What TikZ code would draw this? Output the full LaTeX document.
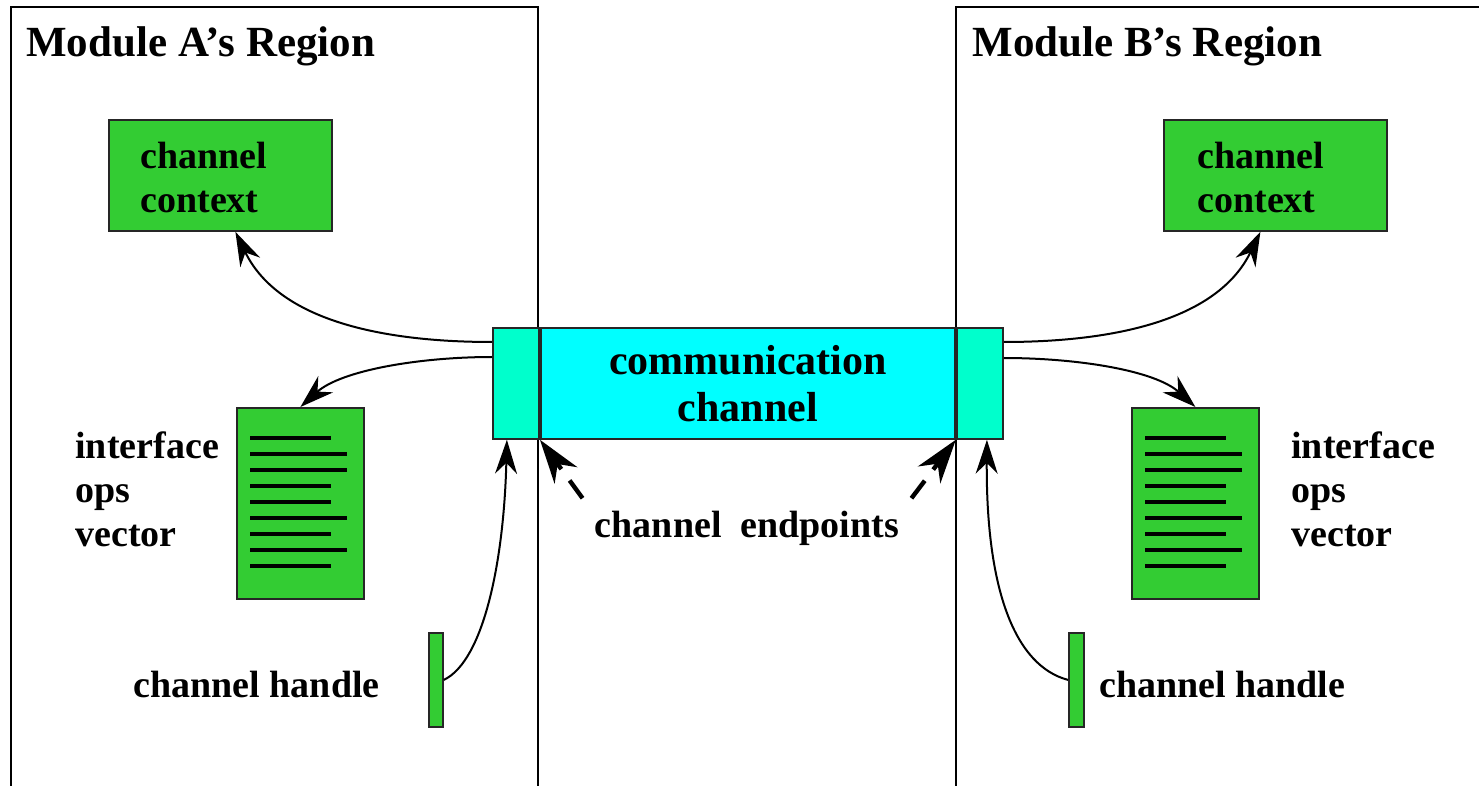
\documentclass[tikz,border=0pt]{standalone}
\usepackage{fontspec}
\setmainfont{Liberation Serif}
\usetikzlibrary{arrows.meta,calc,positioning}
\newcommand{\pxunit}{0.5pt}
\definecolor{chgreen}{RGB}{51,204,51}
\definecolor{chcyan}{RGB}{0,255,255}
\definecolor{epcyan}{RGB}{0,255,204}
\tikzset{
    regionsty/.style={draw=black, line width=1pt},
    titlesty/.style={font=\fontsize{21.5}{25}\selectfont\bfseries, inner sep=0pt, anchor=base west},
    lblsty/.style={font=\fontsize{19}{22}\selectfont\bfseries, inner sep=0pt, align=left},
    boxsty/.style={draw=black!85, line width=0.9pt, rectangle, anchor=north west, inner sep=0pt},
    ctxsty/.style={boxsty, fill=chgreen, minimum width=223*\pxunit, minimum height=111*\pxunit},
    ifsty/.style={boxsty, fill=chgreen, minimum width=127*\pxunit, minimum height=191*\pxunit},
    hdlsty/.style={boxsty, fill=chgreen, minimum width=14*\pxunit, minimum height=94*\pxunit},
    epsty/.style={boxsty, fill=epcyan, minimum width=46*\pxunit, minimum height=111*\pxunit},
    chansty/.style={boxsty, fill=chcyan, minimum width=414*\pxunit, minimum height=111*\pxunit,
        align=center, font=\fontsize{21}{23.5}\selectfont\bfseries},
    oplinesty/.style={line width=2pt},
    arrsty/.style={line width=1pt, -{Stealth[length=17pt,width=11pt,inset=5.5pt]}},
    dasharrsty/.style={line width=2.2pt, dash pattern=on 11pt off 7pt,
        -{Stealth[length=22pt,width=14pt,inset=7pt]}},
}

\begin{document}
\begin{tikzpicture}[x=\pxunit, y=-\pxunit]
\clip (0,0) rectangle (1479,786);

% the two regions
\draw[regionsty] (11,800) |- (538,7) -- (538,800);
\draw[regionsty] (956,800) |- (1490,7);
\node[titlesty] (titleA) at (26,57) {Module A’s Region};
\node[titlesty] (titleB) at (972,57) {Module B’s Region};

% boxes
\node[ctxsty] (ctxA) at (108,119) {};
\node[ctxsty] (ctxB) at (1163,119) {};
\node[lblsty, anchor=base west] (ctxAlbl) at (140,213) {channel\\context};
\node[lblsty, anchor=base west] (ctxBlbl) at (1197,213) {channel\\context};

\node[ifsty] (ifA) at (236,407) {};
\node[ifsty] (ifB) at (1131,407) {};
\foreach \bx in {236,1131}
  \foreach \i/\w in {0/81,1/97,2/97,3/81,4/81,5/97,6/81,7/97,8/81}
    \draw[oplinesty] (\bx+14,438+16*\i) -- ++(\w,0);
\node[lblsty, anchor=base west] (ifAlbl) at (75,546) {interface\\ops\\vector};
\node[lblsty, anchor=base west] (ifBlbl) at (1291,546) {interface\\ops\\vector};

\node[hdlsty] (hdA) at (428,632) {};
\node[hdlsty, minimum width=15*\pxunit] (hdB) at (1068,632) {};
\node[lblsty, anchor=base east] (hdAlbl) at (380,697) {channel handle};
\node[lblsty, anchor=base west] (hdBlbl) at (1099,697) {channel handle};

% the channel
\node[epsty] (epA) at (492,327) {};
\node[chansty] (chan) at (540,327) {communication\\channel};
\node[epsty] (epB) at (956,327) {};
\node[lblsty, inner sep=6pt, anchor=base] (eplbl) at (747,537) {channel\ \ endpoints};

% connectors
\draw[arrsty] ([yshift=-15*\pxunit]epA.north west) .. controls +(-92,0) and +(46,95) .. ([xshift=15*\pxunit]ctxA.south);
\draw[arrsty] ([yshift=-30*\pxunit]epA.north west) .. controls +(-71,0) and +(41,-37) .. (ifA.north);
\draw[arrsty] (hdA.east) .. controls +(40,-19) and +(-3,121) .. ([xshift=-9*\pxunit]epA.south);
\draw[arrsty] ([yshift=-15*\pxunit]epB.north east) .. controls +(92,0) and +(-46,95) .. ([xshift=-15*\pxunit]ctxB.south);
\draw[arrsty] ([yshift=-31*\pxunit]epB.north east) .. controls +(72,0) and +(-41,-37) .. (ifB.north);
\draw[arrsty] (hdB.west) .. controls +(-53,-14) and +(-1,150) .. ([xshift=7*\pxunit]epB.south);
\draw[dasharrsty] (eplbl.north west) -- (chan.south west);
\draw[dasharrsty] (eplbl.north east) -- (chan.south east);
\end{tikzpicture}
\end{document}
